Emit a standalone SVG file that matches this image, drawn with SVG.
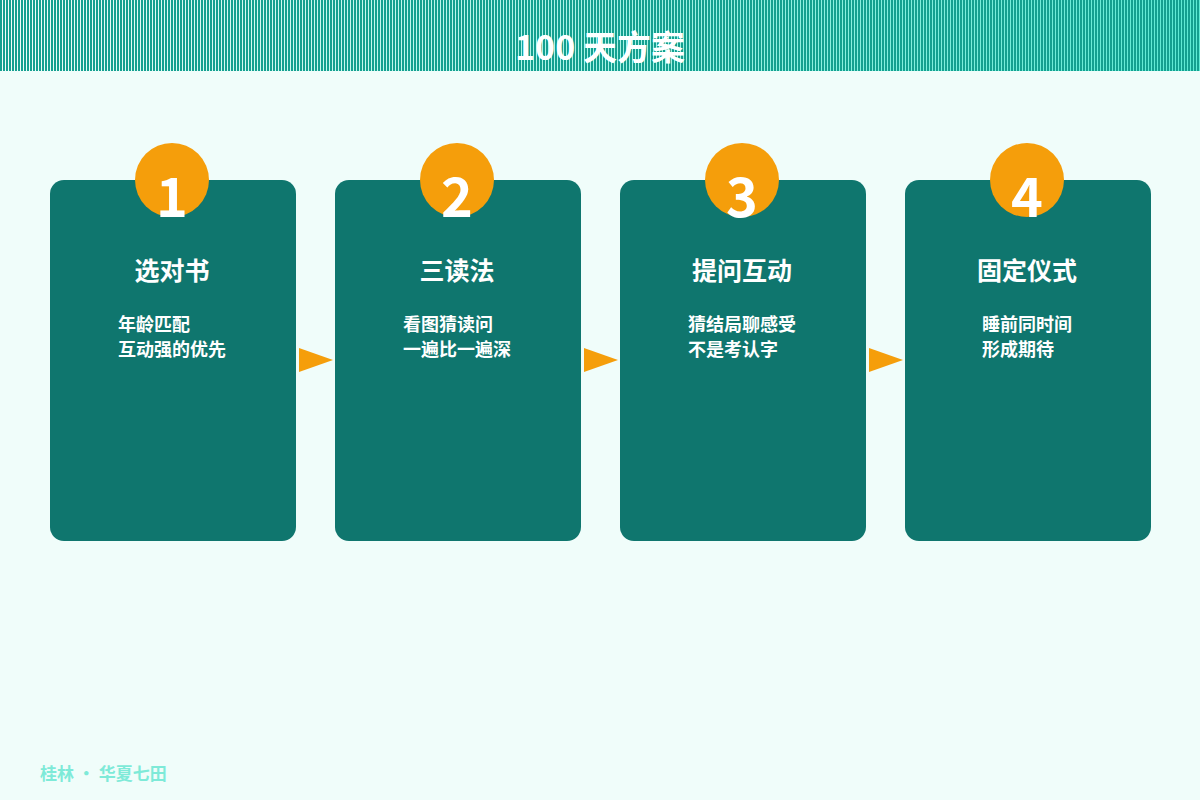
<svg xmlns="http://www.w3.org/2000/svg" width="1200" height="800" viewBox="0 0 1200 800">
<defs>
<linearGradient id="hg" x1="0" x2="1" y1="0" y2="0"><stop offset="0" stop-color="#f0fdfa"/><stop offset="1" stop-color="#5eead4"/></linearGradient>
<pattern id="st" width="3" height="10" patternUnits="userSpaceOnUse"><rect width="2" height="10" fill="#14a090"/></pattern>
<style>
.card{fill:#0f766e}
.num{fill:#f59e0b}
.t{font-family:"Noto Sans CJK SC","Noto Sans",sans-serif;fill:#fff;font-weight:bold}
.n{font-size:54px;text-anchor:middle}
.h{font-size:25px;text-anchor:middle}
.b{font-size:18px}
.arr{fill:#f59e0b}
</style>
</defs>
<rect width="1200" height="800" fill="#f0fdfa"/>
<rect width="1200" height="71" fill="url(#hg)"/>
<rect width="1200" height="71" fill="url(#st)"/>
<text x="600" y="60" class="t" style="font-size:34px;text-anchor:middle">100 天方案</text>
<g id="node1"><rect x="50" y="180" width="246" height="361" rx="14" class="card"/><circle cx="172" cy="180" r="37" class="num"/><text x="172" y="217" class="t n">1</text><text x="172" y="280" class="t h">选对书</text><text x="118" y="331" class="t b">年龄匹配</text><text x="118" y="356" class="t b">互动强的优先</text></g>
<g id="node2"><rect x="335" y="180" width="246" height="361" rx="14" class="card"/><circle cx="457" cy="180" r="37" class="num"/><text x="457" y="217" class="t n">2</text><text x="457" y="280" class="t h">三读法</text><text x="403" y="331" class="t b">看图猜读问</text><text x="403" y="356" class="t b">一遍比一遍深</text></g>
<g id="node3"><rect x="620" y="180" width="246" height="361" rx="14" class="card"/><circle cx="742" cy="180" r="37" class="num"/><text x="742" y="217" class="t n">3</text><text x="742" y="280" class="t h">提问互动</text><text x="688" y="331" class="t b">猜结局聊感受</text><text x="688" y="356" class="t b">不是考认字</text></g>
<g id="node4"><rect x="905" y="180" width="246" height="361" rx="14" class="card"/><circle cx="1027" cy="180" r="37" class="num"/><text x="1027" y="217" class="t n">4</text><text x="1027" y="280" class="t h">固定仪式</text><text x="982" y="331" class="t b">睡前同时间</text><text x="982" y="356" class="t b">形成期待</text></g>
<g id="connectors"><polygon class="arr" points="299,348 333,360 299,372"/><polygon class="arr" points="584,348 618,360 584,372"/><polygon class="arr" points="869,348 903,360 869,372"/></g>
<text x="40" y="780" class="t" style="font-size:17px;fill:#7eead8">桂林 · 华夏七田</text>
</svg>
